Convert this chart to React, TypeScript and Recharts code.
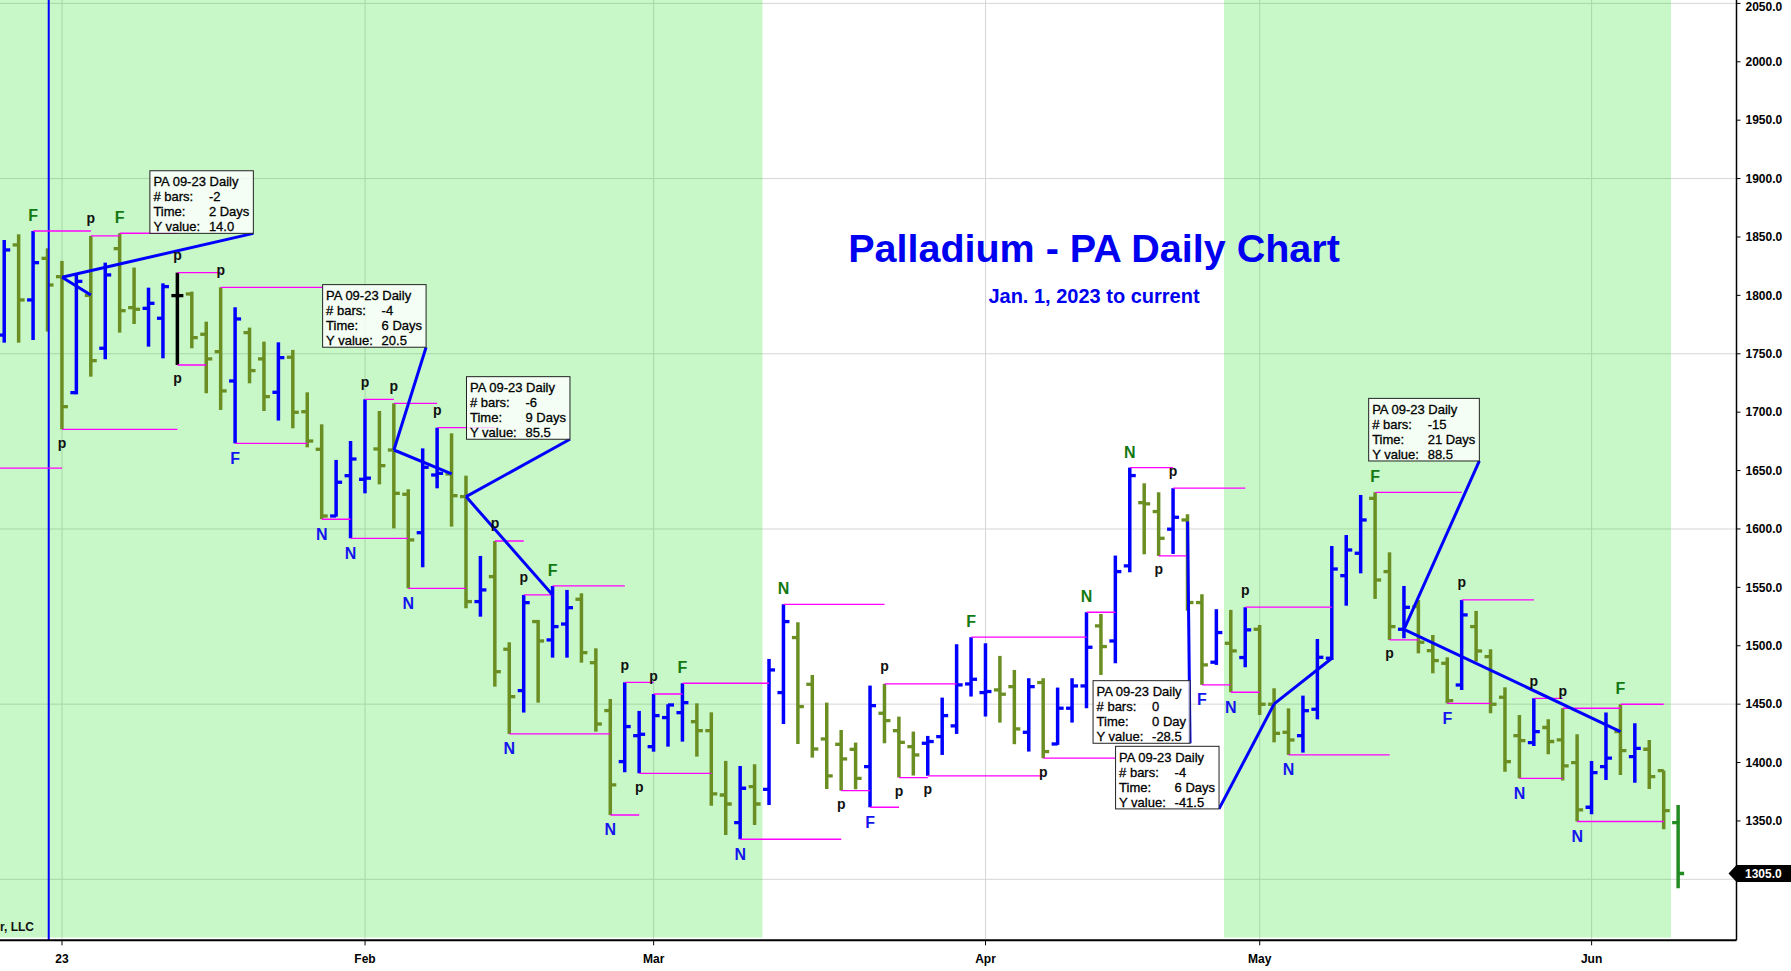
import {
  Bar,
  CartesianGrid,
  ComposedChart,
  Line,
  ReferenceArea,
  ReferenceLine,
  XAxis,
  YAxis,
} from "recharts";

// daily bars, index 0 = Dec 27 2022, index 4 = Jan 3 2023, last = Jun 9
const opens = [
  1766, 1843.2, 1796.1, 1831.7, 1816.0, 1716.7, 1800.0, 1754.7, 1840, 1789.5,
  1788.9, 1780.4, 1799.8, 1801.2, 1766.7, 1751.8, 1726.7, 1768.1, 1745.6, 1717.0,
  1747.0, 1700.4, 1668.2, 1611.1, 1645.6, 1642.5, 1668.5, 1667.6, 1629.7, 1596.8,
  1646.2, 1647.1, 1627.7, 1537.8, 1559.2, 1497.0, 1461.6, 1520.7, 1505.0, 1518.6,
  1539.8, 1485.5, 1444.5, 1400.8, 1423.0, 1413.6, 1438.5, 1442.7, 1435.0, 1427.3,
  1372.2, 1348.6, 1379.4, 1377.1, 1459.9, 1507.0, 1467.0, 1420.2, 1415.6, 1411.3,
  1396.5, 1442.2, 1427.3, 1413.6, 1416.5, 1422.2, 1431.4, 1467.3, 1459.9, 1462.2,
  1465.0, 1425.9, 1468.5, 1415.9, 1446.5, 1465.6, 1517.0, 1504.1, 1568.4, 1622.5,
  1614.9, 1599.8, 1607.7, 1537.0, 1485.9, 1502.1, 1489.9, 1514.1, 1449.9, 1425.9,
  1423.0, 1445.6, 1489.3, 1560.0, 1579.2, 1626.2, 1563.5, 1514.1, 1533.5, 1495.8,
  1485.0, 1466.4, 1516.4, 1490.7, 1455.9, 1423.0, 1417.0, 1430.0, 1419.4, 1400.0,
  1361.7, 1396.5, 1426.5, 1405.1, 1411.4, 1393.1, 1348.6,
];
const highs = [
  1847.4, 1852.3, 1855.1, 1840.3, 1829.5, 1818.9, 1850.9, 1828.0, 1853.2, 1823.8,
  1806.6, 1810.3, 1819.5, 1803.2, 1777.5, 1806.9, 1789.8, 1772.4, 1760.4, 1759.8,
  1753.3, 1717.0, 1689.6, 1659.1, 1675.3, 1711.0, 1701.0, 1707.6, 1634.0, 1669.0,
  1686.7, 1681.9, 1645.6, 1576.9, 1589.7, 1503.0, 1543.5, 1522.1, 1551.2, 1547.8,
  1544.9, 1497.8, 1454.4, 1468.7, 1444.2, 1458.7, 1449.9, 1467.9, 1450.7, 1443.0,
  1401.4, 1397.1, 1398.5, 1488.7, 1535.5, 1520.1, 1475.0, 1451.3, 1427.9, 1417.1,
  1465.9, 1467.3, 1439.3, 1426.5, 1422.8, 1455.6, 1501.3, 1507.3, 1502.1, 1491.3,
  1479.3, 1472.2, 1472.2, 1464.2, 1472.2, 1528.7, 1527.2, 1577.2, 1652.5, 1639.1,
  1631.4, 1634.9, 1612.6, 1544.1, 1531.3, 1530.7, 1533.0, 1517.8, 1463.6, 1446.4,
  1457.3, 1505.8, 1585.4, 1594.8, 1629.1, 1631.4, 1580.0, 1551.2, 1539.2, 1509.2,
  1490.1, 1539.2, 1529.8, 1497.0, 1464.4, 1440.7, 1455.0, 1437.0, 1446.5, 1424.2,
  1401.4, 1442.8, 1449.9, 1433.6, 1419.4, 1393.1, 1363.7,
];
const lows = [
  1759.5, 1759.5, 1761.8, 1769.0, 1685.3, 1715.3, 1730.4, 1745.3, 1768.1, 1775.5,
  1756.1, 1746.1, 1740.4, 1754.7, 1716.2, 1701.9, 1673.3, 1724.7, 1701.0, 1692.8,
  1686.2, 1669.9, 1608.3, 1610.5, 1592.0, 1630.5, 1638.2, 1600.5, 1549.2, 1567.2,
  1634.8, 1602.0, 1532.1, 1524.9, 1465.0, 1424.5, 1442.8, 1451.3, 1489.8, 1489.8,
  1485.5, 1426.5, 1355.1, 1391.7, 1390.8, 1409.3, 1413.6, 1417.9, 1405.1, 1363.1,
  1338.0, 1334.3, 1346.6, 1363.7, 1433.0, 1415.9, 1404.2, 1377.4, 1375.9, 1377.1,
  1361.7, 1416.5, 1387.1, 1388.8, 1388.6, 1406.5, 1424.5, 1456.5, 1439.4, 1434.2,
  1415.7, 1409.4, 1403.7, 1415.1, 1434.2, 1446.5, 1475.0, 1485.0, 1562.9, 1578.3,
  1576.9, 1578.6, 1530.0, 1466.5, 1483.6, 1460.2, 1481.6, 1440.7, 1417.3, 1406.5,
  1408.5, 1437.0, 1487.8, 1534.3, 1562.0, 1540.1, 1505.0, 1506.4, 1493.5, 1476.4,
  1450.7, 1462.1, 1486.4, 1442.2, 1392.2, 1386.5, 1414.2, 1407.1, 1384.6, 1349.5,
  1355.7, 1385.1, 1389.4, 1382.8, 1377.4, 1342.9, 1292.4,
];
const closes = [
  1838.9, 1796.1, 1828.0, 1808.9, 1704.7, 1812.0, 1744.1, 1817.5, 1786.9, 1788.1,
  1793.2, 1807.5, 1799.8, 1763.8, 1745.6, 1718.2, 1779.8, 1735.6, 1713.3, 1746.7,
  1699.9, 1675.3, 1611.1, 1640.0, 1659.9, 1643.5, 1654.2, 1630.5, 1590.6, 1652.8,
  1647.6, 1628.5, 1537.8, 1547.8, 1477.8, 1456.4, 1536.9, 1504.1, 1516.4, 1532.6,
  1494.1, 1433.0, 1380.8, 1430.8, 1424.2, 1440.2, 1449.3, 1451.3, 1427.3, 1373.1,
  1364.5, 1378.0, 1364.5, 1479.3, 1520.7, 1447.9, 1411.6, 1388.5, 1403.1, 1386.5,
  1448.7, 1435.9, 1417.3, 1406.5, 1418.0, 1440.2, 1466.5, 1471.3, 1460.8, 1458.5,
  1428.8, 1465.0, 1409.4, 1446.5, 1465.6, 1498.7, 1499.3, 1563.5, 1645.7, 1621.5,
  1592.0, 1610.0, 1537.0, 1483.6, 1511.3, 1495.6, 1513.6, 1449.9, 1425.0, 1419.3,
  1444.4, 1490.1, 1565.7, 1582.0, 1607.7, 1556.3, 1516.4, 1532.9, 1503.0, 1487.3,
  1453.0, 1526.4, 1495.5, 1449.9, 1400.8, 1418.8, 1426.5, 1418.0, 1397.1, 1359.4,
  1391.4, 1403.7, 1410.2, 1412.2, 1388.0, 1358.9, 1305.0,
];

const monthTicks = [4, 25, 45, 68, 87, 110];
const monthLabels = ["23", "Feb", "Mar", "Apr", "May", "Jun"];
const priceTicks = [1350, 1400, 1450, 1500, 1550, 1600, 1650, 1700, 1750, 1800, 1850, 1900, 1950, 2000, 2050];
const gridPrices = [1300, 1450, 1600, 1750, 1900, 2050];
const lastPrice = 1305.0;
const shaded = [
  [-0.3, 52.54],
  [84.52, 115.5],
];
const cursorBar = 3.08;

// pivot letters: placed over the high / under the low of the bar, with a level line to `to`
type Mark = { i: number; t: string; pos: "a" | "b"; to: number };
const marks: Mark[] = [
  { i: 2, t: "F", pos: "a", to: 6 },
  { i: 6, t: "p", pos: "a", to: 8 },
  { i: 8, t: "F", pos: "a", to: 12 },
  { i: 12, t: "p", pos: "a", to: 15 },
  { i: 15, t: "p", pos: "a", to: 22.1 },
  { i: 25, t: "p", pos: "a", to: 27 },
  { i: 27, t: "p", pos: "a", to: 30 },
  { i: 30, t: "p", pos: "a", to: 34 },
  { i: 34, t: "p", pos: "a", to: 36 },
  { i: 36, t: "p", pos: "a", to: 38 },
  { i: 38, t: "F", pos: "a", to: 43 },
  { i: 43, t: "p", pos: "a", to: 45 },
  { i: 45, t: "p", pos: "a", to: 47 },
  { i: 47, t: "F", pos: "a", to: 53 },
  { i: 54, t: "N", pos: "a", to: 61 },
  { i: 61, t: "p", pos: "a", to: 66 },
  { i: 67, t: "F", pos: "a", to: 75 },
  { i: 75, t: "N", pos: "a", to: 77 },
  { i: 78, t: "N", pos: "a", to: 81 },
  { i: 81, t: "p", pos: "a", to: 86 },
  { i: 86, t: "p", pos: "a", to: 92 },
  { i: 95, t: "F", pos: "a", to: 101 },
  { i: 101, t: "p", pos: "a", to: 106 },
  { i: 106, t: "p", pos: "a", to: 108 },
  { i: 108, t: "p", pos: "a", to: 112 },
  { i: 112, t: "F", pos: "a", to: 115 },
  { i: 4, t: "p", pos: "b", to: 12 },
  { i: 12, t: "p", pos: "b", to: 14 },
  { i: 16, t: "F", pos: "b", to: 21 },
  { i: 22, t: "N", pos: "b", to: 24 },
  { i: 24, t: "N", pos: "b", to: 28 },
  { i: 28, t: "N", pos: "b", to: 32 },
  { i: 35, t: "N", pos: "b", to: 42 },
  { i: 42, t: "N", pos: "b", to: 44 },
  { i: 44, t: "p", pos: "b", to: 49 },
  { i: 51, t: "N", pos: "b", to: 58 },
  { i: 58, t: "p", pos: "b", to: 60 },
  { i: 60, t: "F", pos: "b", to: 62 },
  { i: 62, t: "p", pos: "b", to: 64 },
  { i: 64, t: "p", pos: "b", to: 72 },
  { i: 72, t: "p", pos: "b", to: 77 },
  { i: 80, t: "p", pos: "b", to: 82 },
  { i: 83, t: "F", pos: "b", to: 85 },
  { i: 85, t: "N", pos: "b", to: 87 },
  { i: 89, t: "N", pos: "b", to: 96 },
  { i: 96, t: "p", pos: "b", to: 98 },
  { i: 100, t: "F", pos: "b", to: 103 },
  { i: 105, t: "N", pos: "b", to: 108 },
  { i: 109, t: "N", pos: "b", to: 115 },
];
// level carried in from a pivot left of the window
const carriedLevel = { from: -0.3, to: 4, v: 1652 };

// measured trend lines [i1, v1, i2, v2]
const trends = [
  [4, 1815.5, 6, 1800.3],
  [27, 1667.6, 31, 1647.1],
  [32, 1627.7, 38, 1543.5],
  [92, 1489.3, 88, 1450.2],
  [97, 1514.1, 112, 1426.5],
];

// measurement boxes: connector from `from` to the box's lower right corner `at`
const boxes = [
  { from: [4, 1815.5], at: [17.26, 1853.1], bars: "-2", time: "2 Days", dy: "14.0" },
  { from: [27, 1667.6], at: [29.23, 1755.6], bars: "-4", time: "6 Days", dy: "20.5" },
  { from: [32, 1627.7], at: [39.2, 1676.8], bars: "-6", time: "9 Days", dy: "85.5" },
  { from: [82, 1606.3], at: [82.17, 1416.5], bars: "0", time: "0 Day", dy: "-28.5" },
  { from: [88, 1450.2], at: [84.18, 1360.3], bars: "-4", time: "6 Days", dy: "-41.5" },
  { from: [97, 1514.1], at: [102.22, 1658.2], bars: "-15", time: "21 Days", dy: "88.5" },
];

const FONT = "'Liberation Sans', Arial, sans-serif";
const UP = "#0000ff";
const DOWN = "#6b8e23";
const LAST = "#228b22";
const MAGENTA = "#ff00ff";
const W = 1791;
const H = 971;

const rows = opens.map((o, i) => ({
  i,
  o,
  h: highs[i],
  l: lows[i],
  c: closes[i],
  range: [lows[i], highs[i]],
}));

const levelFor = (m: Mark) => (m.pos === "a" ? highs[m.i] : lows[m.i]);

const levelLines: { i: number; v: number | null }[] = [
  { i: carriedLevel.from, v: carriedLevel.v },
  { i: carriedLevel.to, v: carriedLevel.v },
  { i: carriedLevel.to, v: null },
];
marks.forEach((m) => {
  const v = levelFor(m);
  levelLines.push({ i: m.i, v }, { i: m.to, v }, { i: m.to, v: null });
});

const trendLines: { i: number; v: number | null }[] = [];
trends.forEach(([a, va, b, vb]) => {
  trendLines.push({ i: a, v: va }, { i: b, v: vb }, { i: b, v: null });
});
boxes.forEach((b) => {
  trendLines.push({ i: b.from[0], v: b.from[1] }, { i: b.at[0], v: b.at[1] }, { i: b.at[0], v: null });
});

const markPoints = marks.map((m) => ({ i: m.i, v: levelFor(m), t: m.t, pos: m.pos }));
const boxPoints = boxes.map((b) => ({ i: b.at[0], v: b.at[1], bars: b.bars, time: b.time, dy: b.dy }));

let measureCtx: CanvasRenderingContext2D | null = null;
function textWidth(s: string, font: string) {
  if (!measureCtx && typeof document !== "undefined") {
    measureCtx = document.createElement("canvas").getContext("2d");
  }
  if (!measureCtx) return s.length * 7;
  measureCtx.font = font;
  return measureCtx.measureText(s).width;
}

function OhlcBar(props: any) {
  const { x, y, width, height, payload, index } = props;
  if (!payload || x == null || y == null) return null;
  const top = Math.min(y, y + height);
  const bot = Math.max(y, y + height);
  const span = payload.h - payload.l;
  const toY = (v: number) => (span === 0 ? top : top + ((payload.h - v) / span) * (bot - top));
  const cx = x + width / 2;
  let color = payload.c > payload.o ? UP : payload.c < payload.o ? DOWN : "#000";
  if (index === opens.length - 1) color = LAST;
  const oy = toY(payload.o);
  const cy = toY(payload.c);
  return (
    <g>
      <line x1={cx} x2={cx} y1={top} y2={bot} stroke={color} strokeWidth={3.5} />
      <line x1={cx - 6} x2={cx} y1={oy} y2={oy} stroke={color} strokeWidth={3.3} />
      <line x1={cx} x2={cx + 6} y1={cy} y2={cy} stroke={color} strokeWidth={3.3} />
    </g>
  );
}

function MarkDot(props: any) {
  const { cx, cy, payload, index } = props;
  if (cx == null || cy == null || !payload) return <g key={`m${index}`} />;
  const isP = payload.t === "p";
  const above = payload.pos === "a";
  const fill = isP ? "#111" : above ? "#137913" : "#1414ee";
  const base = above ? cy - (isP ? 12.5 : 10) : cy + (isP ? 18.5 : 20.5);
  return (
    <text
      key={`m${index}`}
      x={cx}
      y={base}
      textAnchor="middle"
      fill={fill}
      fontFamily={FONT}
      fontWeight="bold"
      fontSize={isP ? 14 : 16}
    >
      {payload.t}
    </text>
  );
}

function BoxDot(props: any) {
  const { cx, cy, payload, index } = props;
  if (cx == null || cy == null || !payload) return <g key={`b${index}`} />;
  const font = `13px ${FONT}`;
  const valueW = Math.max(textWidth(payload.bars, font), textWidth(payload.time, font), textWidth(payload.dy, font));
  const w = Math.max(59 + valueW + 4, textWidth("PA 09-23 Daily", font) + 8);
  const h = 62.6;
  const left = cx - w;
  const top = cy - h;
  const rowsTxt = [
    ["PA 09-23 Daily", ""],
    ["# bars:", payload.bars],
    ["Time:", payload.time],
    ["Y value:", payload.dy],
  ];
  const txt = { fontSize: 13, fontFamily: FONT, fill: "#000", stroke: "#000", strokeWidth: 0.3 };
  return (
    <g key={`b${index}`}>
      <rect x={left} y={top} width={w} height={h} fill="#ffffff" fillOpacity={0.8} stroke="#222" strokeWidth={1} />
      {rowsTxt.map(([k, v], r) => (
        <g key={r}>
          <text x={left + 3.5} y={top + 15.5 + r * 15} {...txt}>
            {k}
          </text>
          {v ? (
            <text x={left + 59} y={top + 15.5 + r * 15} {...txt}>
              {v}
            </text>
          ) : null}
        </g>
      ))}
    </g>
  );
}

function PriceTick(props: any) {
  const { x, y, payload } = props;
  if (!payload) return null;
  // keep the top label inside the picture
  const yy = Math.max(y, 7);
  return (
    <text x={x} y={yy} dy={4.2} fill="#000" fontSize={12} fontWeight="bold" fontFamily={FONT} textAnchor="start">
      {Number(payload.value).toFixed(1)}
    </text>
  );
}

function PriceTag(props: any) {
  const vb = props.viewBox;
  if (!vb) return null;
  const x0 = vb.x + vb.width;
  const y = vb.y;
  return (
    <g>
      <polygon
        points={`${x0 - 8},${y} ${x0},${y - 8.5} ${W},${y - 8.5} ${W},${y + 8.5} ${x0},${y + 8.5}`}
        fill="#000"
      />
      <text x={x0 + 8.5} y={y + 4.3} fill="#fff" fontSize={12} fontWeight="bold" fontFamily={FONT}>
        {lastPrice.toFixed(1)}
      </text>
    </g>
  );
}

export default function App() {
  return (
    <div style={{ position: "absolute", left: 0, top: 0, width: W, height: H, background: "#fff" }}>
      <ComposedChart width={W} height={H} data={rows} margin={{ top: 0, right: 0, bottom: 0, left: 0 }}>
        {shaded.map(([a, b], k) => (
          <ReferenceArea
            key={k}
            x1={a}
            x2={b}
            y1={1250.1}
            y2={2052.9}
            fill="#00df00"
            fillOpacity={0.216}
            stroke="none"
            ifOverflow="hidden"
          />
        ))}
        <CartesianGrid
          stroke="#d6d6d6"
          horizontalValues={gridPrices}
          verticalValues={monthTicks}
        />
        <XAxis
          type="number"
          dataKey="i"
          domain={[-0.297, 120.04]}
          allowDataOverflow
          ticks={monthTicks}
          interval={0}
          tickFormatter={(v: number) => monthLabels[monthTicks.indexOf(v)] ?? ""}
          height={30.7}
          tickSize={5}
          tickMargin={9}
          axisLine={{ stroke: "#000", strokeWidth: 2 }}
          tickLine={{ stroke: "#000" }}
          tick={{ fill: "#000", fontSize: 12, fontWeight: "bold", fontFamily: FONT }}
        />
        <YAxis
          orientation="right"
          dataKey="v"
          domain={[1247.8, 2052.9]}
          allowDataOverflow
          ticks={priceTicks}
          interval={0}
          width={54.5}
          tickSize={4}
          tickMargin={5}
          axisLine={{ stroke: "#000", strokeWidth: 1.5 }}
          tickLine={{ stroke: "#000" }}
          tick={<PriceTick />}
        />
        <Bar dataKey="range" barSize={12} shape={<OhlcBar />} isAnimationActive={false} />
        <ReferenceLine x={cursorBar} stroke="#0000ff" strokeWidth={2} />
        <Line
          data={levelLines}
          dataKey="v"
          stroke={MAGENTA}
          strokeWidth={1.3}
          dot={false}
          activeDot={false}
          isAnimationActive={false}
          connectNulls={false}
        />
        <Line
          data={trendLines}
          dataKey="v"
          stroke="#0000ff"
          strokeWidth={3}
          dot={false}
          activeDot={false}
          isAnimationActive={false}
          connectNulls={false}
        />
        <Line
          data={markPoints}
          dataKey="v"
          stroke="none"
          dot={MarkDot}
          activeDot={false}
          isAnimationActive={false}
        />
        <Line
          data={boxPoints}
          dataKey="v"
          stroke="none"
          dot={BoxDot}
          activeDot={false}
          isAnimationActive={false}
        />
        <ReferenceLine y={lastPrice} stroke="none" label={<PriceTag />} />
      </ComposedChart>
      <svg width={W} height={H} style={{ position: "absolute", left: 0, top: 0, pointerEvents: "none" }}>
        <text x={1094} y={261.7} textAnchor="middle" fill="#0000f0" fontFamily={FONT} fontWeight="bold" fontSize={39.5}>
          Palladium - PA Daily Chart
        </text>
        <text x={1094} y={302.7} textAnchor="middle" fill="#0000f0" fontFamily={FONT} fontWeight="bold" fontSize={20}>
          Jan. 1, 2023 to current
        </text>
        <text x={34} y={931} textAnchor="end" fill="#111" fontFamily={FONT} fontWeight="bold" fontSize={12}>
          r, LLC
        </text>
      </svg>
    </div>
  );
}
